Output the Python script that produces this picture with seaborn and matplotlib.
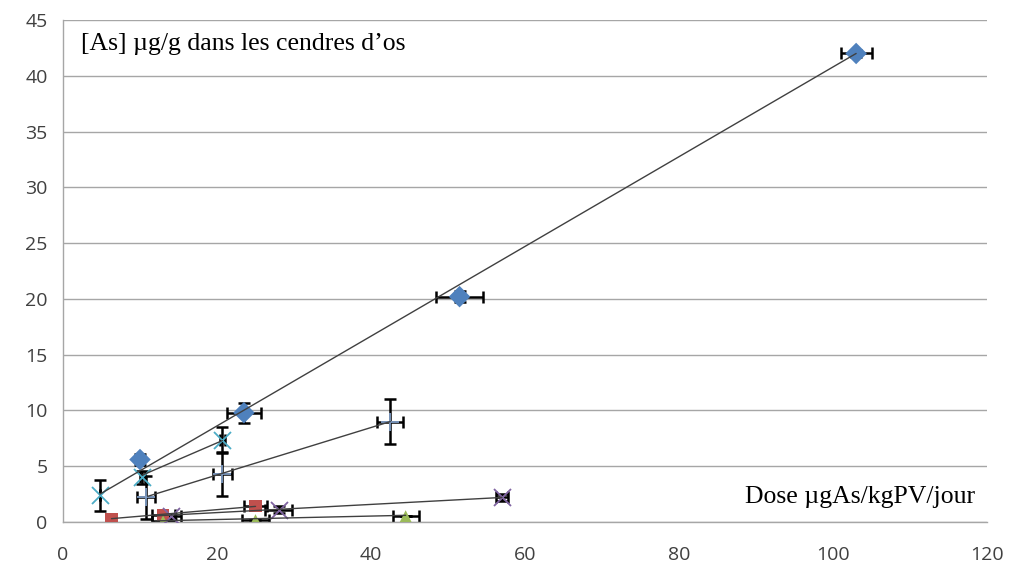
import numpy as np
import pandas as pd
import seaborn as sns
import matplotlib.pyplot as plt

# series values
blue_x = [10.0, 23.5, 51.5, 103.0]
blue_y = [5.6, 9.8, 20.2, 42.0]
blue_xerr = [0.5, 2.2, 3.0, 2.0]
blue_yerr = [0.5, 0.9, 0.5, 0.3]

cyan_x = [4.8, 10.3, 20.7]
cyan_y = [2.4, 4.0, 7.35]
cyan_xerr = [0.0, 0.3, 0.3]
cyan_yerr = [1.4, 0.6, 1.2]

lblue_x = [10.8, 20.7, 42.5]
lblue_y = [2.2, 4.3, 9.0]
lblue_xerr = [1.2, 1.2, 1.7]
lblue_yerr = [1.9, 2.0, 2.0]

red_x = [6.3, 13.0, 25.0]
red_y = [0.3, 0.6, 1.4]
red_xerr = [0.0, 1.5, 1.5]
red_yerr = [0.0, 0.0, 0.0]

purple_x = [14.0, 28.0, 57.0]
purple_y = [0.5, 1.1, 2.2]
purple_xerr = [1.3, 1.8, 0.8]
purple_yerr = [0.2, 0.3, 0.3]

green_x = [13.0, 25.0, 44.5]
green_y = [0.05, 0.15, 0.5]
green_xerr = [1.5, 1.8, 1.7]
green_yerr = [0.0, 0.0, 0.0]

# trend segments (start and end points)
trend_x0 = [4.8, 10.3, 11.0, 6.3, 12.0, 12.0]
trend_y0 = [2.5, 4.2, 2.3, 0.3, 0.55, 0.1]
trend_x1 = [103.0, 20.7, 42.5, 25.0, 57.0, 44.5]
trend_y1 = [42.0, 7.3, 9.0, 1.4, 2.2, 0.6]

x_ticks = [0, 20, 40, 60, 80, 100, 120]
y_ticks = [0, 5, 10, 15, 20, 25, 30, 35, 40, 45]

series = [
    # x, y, xerr, yerr, marker, colour, size
    (blue_x, blue_y, blue_xerr, blue_yerr, 'D', '#4F81BD', 120),
    (cyan_x, cyan_y, cyan_xerr, cyan_yerr, 'x', '#4BACC6', 150),
    (lblue_x, lblue_y, lblue_xerr, lblue_yerr, '+', '#7E9CC4', 160),
    (red_x, red_y, red_xerr, red_yerr, 's', '#C0504D', 75),
    (purple_x, purple_y, purple_xerr, purple_yerr, 'x', '#8064A2', 150),
    (green_x, green_y, green_xerr, green_yerr, '^', '#9BBB59', 80),
]

sns.set_style('white')
plt.rcParams['font.family'] = ['Open Sans', 'DejaVu Sans']

fig = plt.figure(figsize=(10.11, 5.8), dpi=100)
ax = fig.add_axes([0.0623, 0.1, 0.9140, 0.8655])

for xs, ys, xe, ye, mk, col, sz in series:
    ax.errorbar(xs, ys, xerr=xe, yerr=ye, fmt='none', ecolor='black',
                elinewidth=1.8, capsize=4, capthick=1.8, zorder=2)
    df = pd.DataFrame({'x': xs, 'y': ys})
    lw = 1.3 if mk in ('x', '+') else 0
    sns.scatterplot(data=df, x='x', y='y', marker=mk, s=sz, color=col,
                    linewidth=lw, edgecolor=col if lw else 'none', ax=ax, zorder=3)

for x0, y0, x1, y1 in zip(trend_x0, trend_y0, trend_x1, trend_y1):
    ax.plot([x0, x1], [y0, y1], color='#404040', linewidth=1.0, zorder=4)

ax.set_xlim(0, 120)
ax.set_ylim(0, 45)
ax.set_xticks(x_ticks)
ax.set_yticks(y_ticks)
ax.yaxis.grid(True, color='#A6A6A6', linewidth=1)
ax.xaxis.grid(False)
ax.set_axisbelow(True)
for side in ('top', 'right'):
    ax.spines[side].set_visible(False)
for side in ('left', 'bottom'):
    ax.spines[side].set_color('#A6A6A6')
    ax.spines[side].set_linewidth(1)
ax.tick_params(axis='both', which='major', labelsize=14, labelcolor='#404040',
               color='#A6A6A6', length=5, width=1, direction='out')
ax.tick_params(axis='x', pad=12)
ax.tick_params(axis='y', pad=6)
ax.set_xlabel('')
ax.set_ylabel('')

ax.text(0.02, 0.953, '[As] \u00b5g/g dans les cendres d\u2019os', transform=ax.transAxes,
        fontsize=18.5, family='Liberation Serif', ha='left', va='center', color='black')
ax.text(0.987, 0.05, 'Dose \u00b5gAs/kgPV/jour', transform=ax.transAxes,
        fontsize=18.5, family='Liberation Serif', ha='right', va='center', color='black')

fig.savefig('out.png', dpi=100)
